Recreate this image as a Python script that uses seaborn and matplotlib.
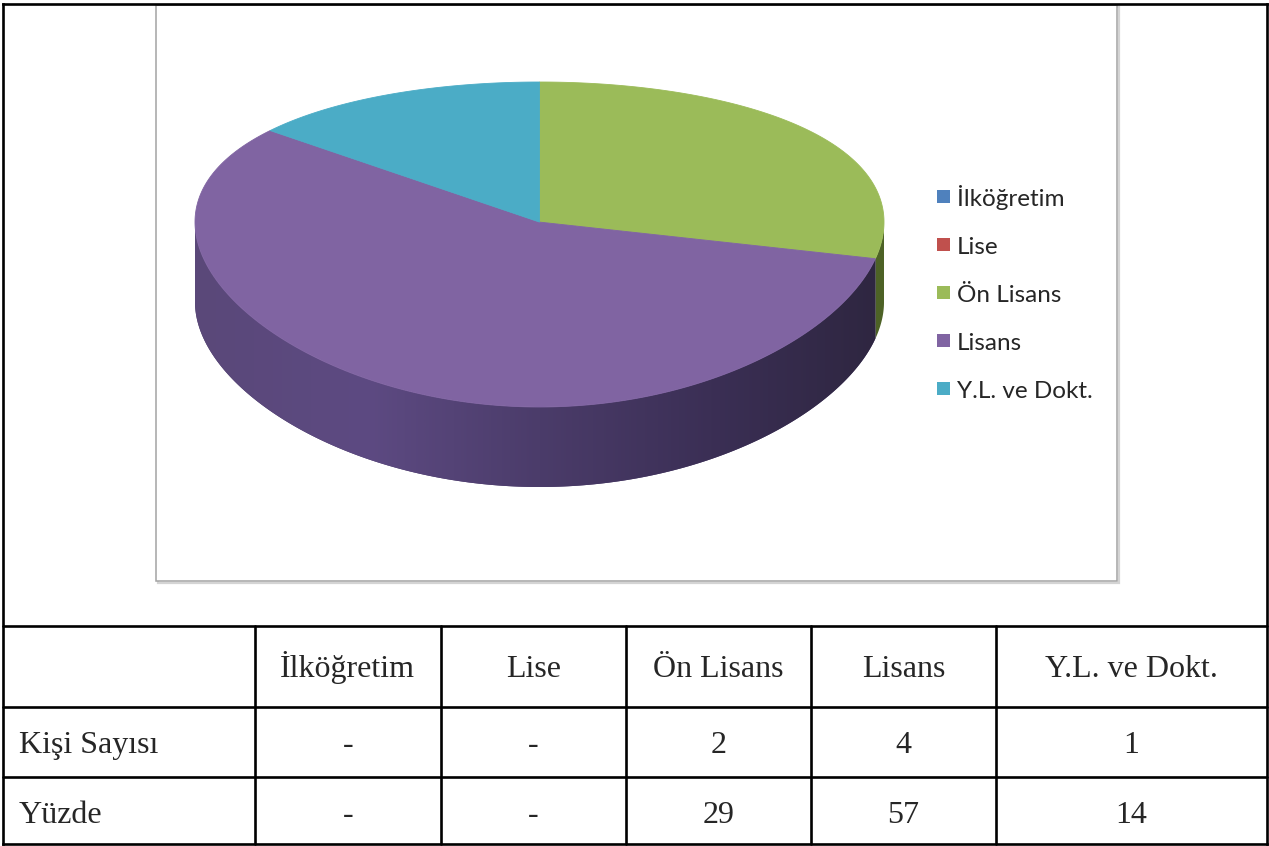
import numpy as np
import matplotlib
matplotlib.use("Agg")
import matplotlib.pyplot as plt
from matplotlib.patches import Polygon, Rectangle
from matplotlib.colors import LinearSegmentedColormap
import seaborn as sns

# ---------------- data ----------------
categories = ["İlköğretim", "Lise", "Ön Lisans", "Lisans", "Y.L. ve Dokt."]
counts = [0, 0, 2, 4, 1]
percents = [None, None, 29, 57, 14]
row_labels = ["Kişi Sayısı", "Yüzde"]
colors_hex = ["#4F81BD", "#C0504D", "#9BBB59", "#8064A2", "#4BACC6"]
side_hex = ["#3a5a85", "#87372f", "#4d6226", "#4a3a68", "#2f7487"]

sns.set_theme(style="white")
palette = sns.color_palette(colors_hex)
side_palette = sns.color_palette(side_hex)

W, H = 1269, 846
fig = plt.figure(figsize=(W / 100, H / 100), dpi=100)
ax = fig.add_axes([0, 0, 1, 1])
ax.set_xlim(0, W)
ax.set_ylim(H, 0)
ax.axis("off")

# ---------------- chart frame ----------------
ax.add_patch(Rectangle((158, 7), 961, 576, facecolor="none", edgecolor="#d4d4d4", lw=1.6, zorder=1))
ax.add_patch(Rectangle((156, 5), 961, 576, facecolor="white", edgecolor="#a3a3a3", lw=1.1, zorder=2))

# ---------------- 3D pie ----------------
cx, cy, rx, ry, k, depth = 539.5, 244.5, 344.5, 162.5, 0.138, 80


def proj(theta):
    u = np.sin(theta)
    v = -np.cos(theta)
    return cx + rx * u, cy + ry * (v - k) / (1 - k * v)


centre = (cx, cy - ry * k)
total = float(sum(counts))
fracs = [c / total for c in counts]
bounds = np.concatenate([[0], np.cumsum(fracs)]) * 2 * np.pi

stops = ["#5a4879", "#5d4a82", "#4b3c6a", "#3b2f55", "#2e2640"]
side_cmap = LinearSegmentedColormap.from_list("side", stops)

# sides
for i, c in enumerate(counts):
    if c == 0:
        continue
    a0 = max(bounds[i], np.pi / 2)
    a1 = min(bounds[i + 1], 3 * np.pi / 2)
    if a1 <= a0:
        continue
    th = np.linspace(a0, a1, 200)
    xs, ys = proj(th)
    pts = np.column_stack([np.r_[xs, xs[::-1]], np.r_[ys, ys[::-1] + depth]])
    poly = Polygon(pts, closed=True, facecolor=side_palette[i], edgecolor="none", zorder=3)
    ax.add_patch(poly)
    if categories[i] == "Lisans":
        grad = np.linspace(0, 1, 512)[None, :]
        im = ax.imshow(grad, cmap=side_cmap, extent=(cx - rx, cx + rx, cy + ry + depth + 5, cy - 20),
                       aspect="auto", zorder=3.5, interpolation="bilinear")
        im.set_clip_path(poly)

# top faces
for i, c in enumerate(counts):
    if c == 0:
        continue
    th = np.linspace(bounds[i], bounds[i + 1], 300)
    xs, ys = proj(th)
    pts = np.column_stack([np.r_[centre[0], xs], np.r_[centre[1], ys]])
    ax.add_patch(Polygon(pts, closed=True, facecolor=palette[i], edgecolor=palette[i], lw=0.6, zorder=5))

ax.set_xlim(0, W)
ax.set_ylim(H, 0)

# ---------------- legend ----------------
leg_y0, leg_dy = 197, 48
for i, name in enumerate(categories):
    y = leg_y0 + i * leg_dy
    ax.add_patch(Rectangle((937, y - 6.5), 13, 13, facecolor=palette[i], edgecolor="none", zorder=6))
    ax.text(957, y + 8.5, name, fontsize=17.5, family=["Lato", "DejaVu Sans"], color="#262626",
            ha="left", va="baseline", zorder=6)

# ---------------- table ----------------
lw = 1.9
xl, xr, yt, yb = 3, 1267, 4.5, 844.5
h_lines = [626, 707, 777]
v_lines = [254.5, 441, 626, 811, 996]
ax.plot([xl, xr], [yt, yt], color="black", lw=lw, solid_capstyle="projecting", zorder=7)
ax.plot([xl, xr], [yb, yb], color="black", lw=lw, solid_capstyle="projecting", zorder=7)
ax.plot([xl, xl], [yt, yb], color="black", lw=lw, solid_capstyle="projecting", zorder=7)
ax.plot([xr, xr], [yt, yb], color="black", lw=lw, solid_capstyle="projecting", zorder=7)
for y in h_lines:
    ax.plot([xl, xr], [y, y], color="black", lw=lw, zorder=7)
for x in v_lines:
    ax.plot([x, x], [h_lines[0], yb], color="black", lw=lw, zorder=7)

serif = ["Liberation Serif", "DejaVu Serif"]
fs = 23
col_edges = v_lines + [xr]
col_centres = [(col_edges[j] + col_edges[j + 1]) / 2 for j in range(len(categories))]
base_header, base_rows = 677, [753, 823]

for j, name in enumerate(categories):
    ax.text(col_centres[j], base_header, name, fontsize=fs, family=serif, ha="center", va="baseline", zorder=8)

row_values = [counts, percents]
for r, (lab, vals) in enumerate(zip(row_labels, row_values)):
    ax.text(19, base_rows[r], lab, fontsize=fs, family=serif, ha="left", va="baseline", zorder=8)
    for j, v in enumerate(vals):
        txt = "-" if (v is None or v == 0) else str(v)
        ax.text(col_centres[j], base_rows[r], txt, fontsize=fs, family=serif, ha="center", va="baseline", zorder=8)

fig.savefig("out.png", dpi=100)
